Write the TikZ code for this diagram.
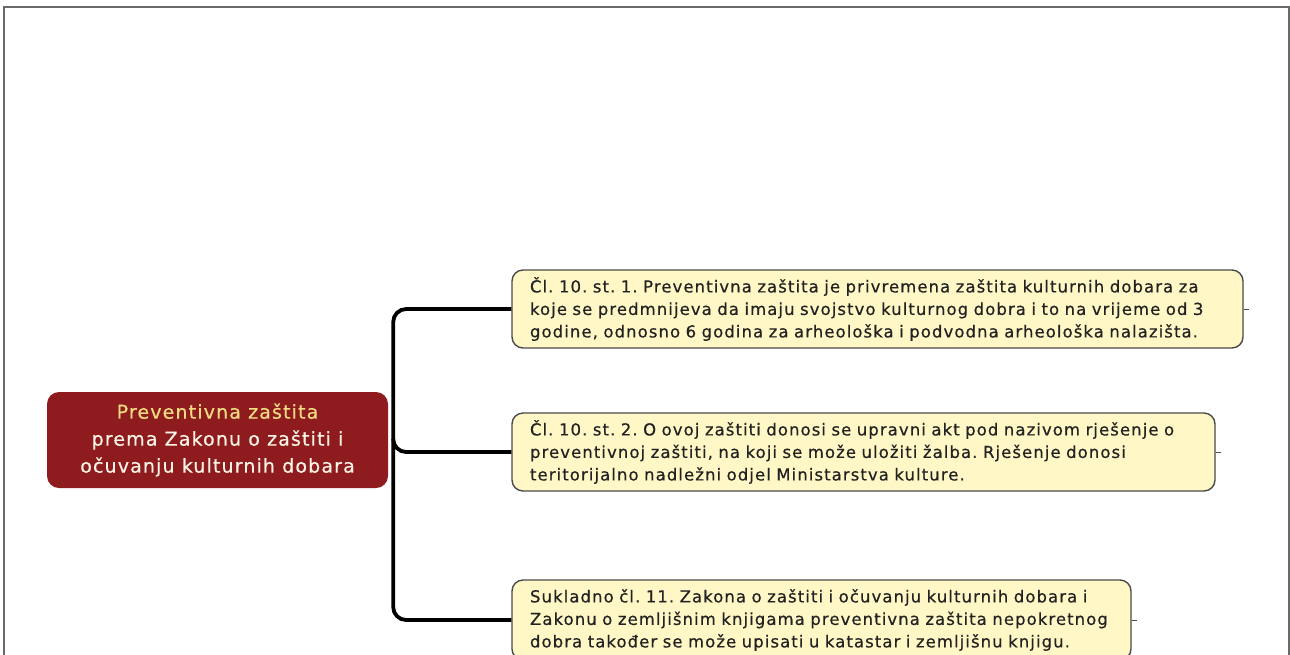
\documentclass[tikz,border=0pt]{standalone}
\usepackage{fontspec}
\setmainfont{DejaVu Sans}
\newfontfamily\leaffont[LetterSpace=6.5,FakeBold=0.5]{DejaVu Sans}
\newfontfamily\rootfont[LetterSpace=6,FakeBold=0.5]{DejaVu Sans}
\definecolor{rootfill}{HTML}{8E1B1E}
\definecolor{rootyellow}{HTML}{F2DC82}
\definecolor{rootwhite}{HTML}{FBF3E6}
\definecolor{boxfill}{HTML}{FFF8C6}
\definecolor{boxline}{HTML}{4A4A4A}
\definecolor{framegray}{HTML}{6A6A6A}
\definecolor{textdark}{HTML}{222222}
\tikzset{
  rootbox/.style={fill=rootfill, draw=none, rounded corners=12pt, minimum width=341pt, minimum height=96pt, align=center, inner sep=0pt,
    font=\rootfont\fontsize{19}{27}\selectfont\frenchspacing, text=rootwhite},
  leafbox/.style={fill=boxfill, draw=boxline, line width=1.4pt, rounded corners=11pt, inner xsep=18pt, inner ysep=0pt, align=left,
    font=\leaffont\fontsize{16.5}{22.5}\selectfont\frenchspacing, text=textdark},
  conn/.style={draw=black, line width=3.8pt, rounded corners=13pt},
  tick/.style={draw=boxline, line width=1pt},
}
\begin{document}
\begin{tikzpicture}[x=1pt,y=-1pt]
\useasboundingbox (0,0) rectangle (1290,654);
\draw[framegray, line width=1.5pt] (4,7) rectangle (1289,700);

\node[rootbox] (root) at (217.5,440) {{\color{rootyellow}Preventivna zaštita}\\prema Zakonu o zaštiti i\\očuvanju kulturnih dobara};

\node[leafbox, text width=695pt, minimum height=78pt] (b1) at (877.5,309)
  {Čl. 10. st. 1. Preventivna zaštita je privremena zaštita kulturnih dobara za\\koje se predmnijeva da imaju svojstvo kulturnog dobra i to na vrijeme od 3\\godine, odnosno 6 godina za arheološka i podvodna arheološka nalazišta.};
\node[leafbox, text width=667pt, minimum height=78pt] (b2) at (863.5,452)
  {Čl. 10. st. 2. O ovoj zaštiti donosi se upravni akt pod nazivom rješenje o\\preventivnoj zaštiti, na koji se može uložiti žalba. Rješenje donosi\\teritorijalno nadležni odjel Ministarstva kulture.};
\node[leafbox, text width=583pt, minimum height=80pt] (b3) at (821.5,620)
  {Sukladno čl. 11. Zakona o zaštiti i očuvanju kulturnih dobara i\\Zakonu o zemljišnim knjigama preventivna zaštita nepokretnog\\dobra također se može upisati u katastar i zemljišnu knjigu.};

\coordinate (trunk) at ([xshift=5pt]root.east);
\draw[conn] (b1.west) -- (trunk |- b1.west) -- (trunk |- b3.west) -- (b3.west);
\draw[conn] (trunk) |- (b2.west);

\draw[tick] (b1.east) -- ++(5,0);
\draw[tick] (b2.east) -- ++(5,0);
\draw[tick] (b3.east) -- ++(5,0);
\end{tikzpicture}
\end{document}
